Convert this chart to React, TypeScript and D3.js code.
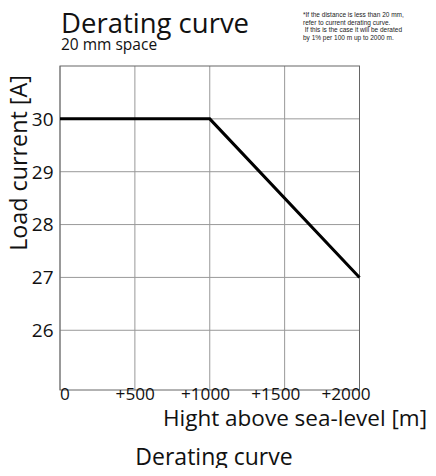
import React from 'react';
import * as d3 from 'd3';

// derating curve, 20 mm space
const altitude = [0, 1000, 2000];
const current = [30, 30, 27];
const xTicks = [0, 500, 1000, 1500, 2000];
const xTickLabels = ['0', '+500', '+1000', '+1500', '+2000'];
const yTicks = [26, 27, 28, 29, 30];
const noteLines = [
  '*If the distance is less than 20 mm,',
  'refer to current derating curve.',
  ' If this is the case it will be derated',
  'by 1% per 100 m up to 2000 m.',
];

const font = "'Open Sans', 'Noto Sans', sans-serif";
const smallFont = "'Liberation Sans', Arial, sans-serif";

export default function App() {
  const width = 436;
  const height = 476;
  const left = 60, right = 359.5, top = 66, bottom = 390;

  const x = d3.scaleLinear().domain([0, 2000]).range([left, right]);
  const y = d3.scaleLinear().domain([24.87, 31]).range([bottom, top]);
  // the tick labels sit a little off the grid lines in the original
  const xLabel = d3.scaleLinear().domain([0, 2000]).range([65, 346]);

  const line = d3.line<number>()
    .x((d, i) => x(altitude[i]))
    .y(d => y(d));

  return (
    <div style={{ margin: -8 }}>
      <svg width={width} height={height} style={{ display: 'block', background: '#fff' }}>
        <text x={61} y={33} fontFamily={font} fontSize={27.5} fill="#111">Derating curve</text>
        <text x={61} y={50} fontFamily={font} fontSize={15.5} fill="#111">20 mm space</text>
        {noteLines.map((t, i) => (
          <text key={i} x={303} y={17 + i * 7.5} fontFamily={smallFont} fontSize={6.5} fill="#222"
            style={{ whiteSpace: 'pre' }}>{t}</text>
        ))}

        {xTicks.map(v => (
          <line key={'gx' + v} x1={x(v)} x2={x(v)} y1={top} y2={bottom} stroke="#999" strokeWidth={1} />
        ))}
        {yTicks.map(v => (
          <line key={'gy' + v} x1={left} x2={right} y1={y(v)} y2={y(v)} stroke="#999" strokeWidth={1} />
        ))}
        <rect x={left} y={top} width={right - left} height={bottom - top} fill="none" stroke="#666" strokeWidth={1} />

        <path d={line(current) ?? ''} fill="none" stroke="#000" strokeWidth={3} />

        {yTicks.map(v => (
          <text key={'ty' + v} x={53.5} y={y(v)} dy="0.36em" textAnchor="end" fontFamily={font} fontSize={19} fill="#111">{v}</text>
        ))}
        {xTicks.map((v, i) => (
          <text key={'tx' + v} x={xLabel(v)} y={400} textAnchor="middle" fontFamily={font} fontSize={17.2} fill="#111">{xTickLabels[i]}</text>
        ))}

        <text transform={`translate(27,163) rotate(-90)`} textAnchor="middle" fontFamily={font} fontSize={23.3} fill="#111">Load current [A]</text>
        <text x={427} y={426} textAnchor="end" fontFamily={font} fontSize={22.5} fill="#111">Hight above sea-level [m]</text>
        <text x={214} y={465} textAnchor="middle" fontFamily={font} fontSize={23} fill="#111">Derating curve</text>
      </svg>
    </div>
  );
}
